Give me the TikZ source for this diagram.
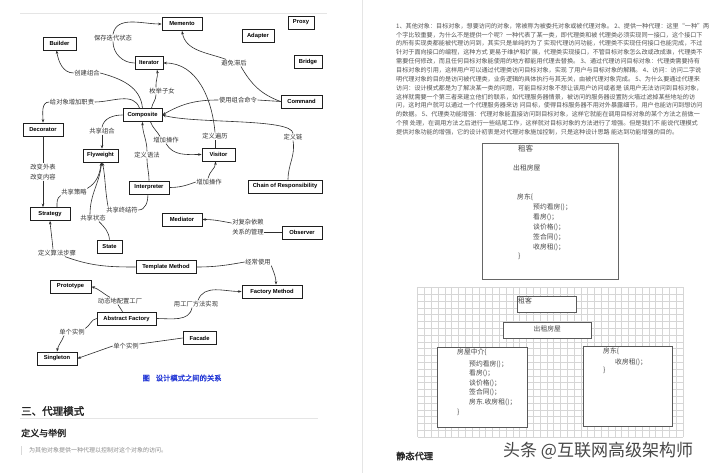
\documentclass[tikz,border=0pt]{standalone}
\usepackage{fontspec}
\setmainfont{Liberation Sans}
\newfontfamily\cjk[AutoFakeBold=2]{Noto Sans CJK SC}
\usetikzlibrary{arrows.meta}
\definecolor{boxline}{gray}{0.12}
\definecolor{edgecol}{gray}{0.18}
\definecolor{lblcol}{gray}{0.2}
\definecolor{paracol}{gray}{0.33}
\definecolor{gridcol}{gray}{0.84}
\definecolor{capblue}{RGB}{40,60,215}
\definecolor{faint}{gray}{0.9}
\tikzset{
  box/.style={draw=boxline, line width=0.7pt, fill=white, font=\bfseries\fontsize{5.8}{7}\selectfont, minimum height=13, inner sep=1pt},
  lbl/.style={font=\cjk\fontsize{6.3}{7.5}\selectfont, text=lblcol, inner sep=0.5pt},
  lbltwo/.style={font=\cjk\fontsize{6.3}{10}\selectfont, text=lblcol, inner sep=0.5pt, align=center},
  edge/.style={draw=edgecol, line width=0.6pt},
  arr/.style={edge, -{Stealth[length=3.6pt,width=2.6pt]}},
  para/.style={font=\cjk\fontsize{6.1}{7}\selectfont, text=paracol, inner sep=0pt, anchor=west},
  gbox/.style={draw=black!65, line width=0.6pt, fill=white, inner sep=0pt, anchor=north west},
  gtxt/.style={font=\cjk\fontsize{6.8}{8}\selectfont, text=black!72, inner sep=0pt, anchor=west},
}
\newcommand\myparline[2]{\node[para] (p#1) at (396,{26+8.85*(#1-1)}) {#2};}
\begin{document}
\begin{tikzpicture}[x=1pt,y=-1pt]
\useasboundingbox (0,0) rectangle (720,473);
\fill[white] (0,0) rectangle (720,473);

% ---------- left page ----------
\draw[faint, line width=0.6pt] (20,13) -- (327,13);

\node[box,minimum width=40] (memento) at (182,24) {Memento};
\node[box,minimum width=26] (proxy) at (301,22.5) {Proxy};
\node[box,minimum width=32] (adapter) at (258,36) {Adapter};
\node[box,minimum width=28] (bridge) at (308,62) {Bridge};
\node[box,minimum width=33] (builder) at (59.5,43.5) {Builder};
\node[box,minimum width=28] (iterator) at (149,63) {Iterator};
\node[box,minimum width=41] (command) at (301.5,101.5) {Command};
\node[box,minimum width=39] (composite) at (142.5,115) {Composite};
\node[box,minimum width=40] (decorator) at (43,129.5) {Decorator};
\node[box,minimum width=35] (flyweight) at (100.5,155.5) {Flyweight};
\node[box,minimum width=33] (visitor) at (218.5,154.5) {Visitor};
\node[box,minimum width=40] (interpreter) at (149,187.5) {Interpreter};
\node[box,minimum width=74] (chain) at (285,186.5) {Chain of Responsibility};
\node[box,minimum width=40] (strategy) at (50,214) {Strategy};
\node[box,minimum width=40] (mediator) at (182,219.5) {Mediator};
\node[box,minimum width=40] (observer) at (302,232.5) {Observer};
\node[box,minimum width=25] (state) at (109.5,246.5) {State};
\node[box,minimum width=60] (template) at (166,267) {Template Method};
\node[box,minimum width=60] (factorym) at (272,291.5) {Factory Method};
\node[box,minimum width=41] (prototype) at (70.5,286.5) {Prototype};
\node[box,minimum width=59] (absfactory) at (126.5,318.5) {Abstract Factory};
\node[box,minimum width=33] (facade) at (199.5,338) {Facade};
\node[box,minimum width=40] (singleton) at (57,358.5) {Singleton};

\node[lbl] (l1) at (113,38) {保存迭代状态};
\node[lbl] (l2) at (87,73) {创建组合};
\node[lbl] (l3) at (162,91) {枚举子女};
\node[lbl] (l4) at (72,102) {给对象增加职责};
\node[lbl] (l5) at (102,131) {共享组合};
\node[lbl] (l6) at (147,155) {定义语法};
\node[lbl] (l7) at (166,140) {增加操作};
\node[lbl] (l8) at (215,136) {定义遍历};
\node[lbl] (l9) at (238,100) {使用组合命令};
\node[lbl] (l10) at (293,137) {定义链};
\node[lbl] (l11) at (234,63) {避免滞后};
\node[lbltwo] (l12) at (43,172) {改变外表\\改变内容};
\node[lbl] (l13) at (74,192) {共享策略};
\node[lbl] (l14) at (122,210) {共享终结符};
\node[lbl] (l15) at (93,218) {共享状态};
\node[lbl] (l16) at (57,253) {定义算法步骤};
\node[lbl] (l17) at (209,182) {增加操作};
\node[lbltwo] (l18) at (248,227) {对复杂依赖\\关系的管理};
\node[lbl] (l19) at (258,262) {经常使用};
\node[lbl] (l20) at (120,301) {动态地配置工厂};
\node[lbl] (l21) at (196,304) {用工厂方法实现};
\node[lbl] (l22) at (72,332) {单个实例};
\node[lbl] (l23) at (126,346) {单个实例};

% connectors
\draw[edge] (iterator.west) to[out=180,in=-90] (l1.south);
\draw[arr] (l1.north) to[out=80,in=180] (memento.west);
\draw[edge] (composite.north) to[out=95,in=-15] (l2.east);
\draw[arr] (l2.west) to[out=180,in=-80] ([xshift=-3pt]builder.south);
\draw[edge] ([xshift=9pt]composite.north) to[out=80,in=-90] ([xshift=-6pt]l3.south);
\draw[arr] ([xshift=-6pt]l3.north) to[out=95,in=-80] ([xshift=8pt]iterator.south);
\draw[edge] ([xshift=-3pt]composite.north) to[out=110,in=0] (l4.east);
\draw[arr] (l4.west) to[out=180,in=90] (decorator.north);
\draw[edge] (composite.west) to[out=180,in=80] (l5.north);
\draw[arr] (l5.south) -- (l5.south |- flyweight.north);
\draw[edge] (interpreter.north) to[out=90,in=-90] (l6.south);
\draw[arr] (l6.north) to[out=90,in=-90] (composite.south);
\draw[edge] ([xshift=8pt]composite.south) to[out=-70,in=120] ([xshift=-6pt]l7.north);
\draw[arr] (l7.south) to[out=-60,in=180] (visitor.west);
\draw[edge] (l8.south |- visitor.north) -- (l8.south);
\draw[arr] (l8.north) to[out=95,in=0] (iterator.east);
\draw[edge] (command.west) -- (l9.east);
\draw[arr] (l9.west) to[out=180,in=30] (composite.east);
\draw[edge] ([xshift=3pt]chain.north) to[out=90,in=-80] (l10.south);
\draw[arr] (l10.north) .. controls (292,118) and (195,124) .. (composite.east);
\draw[edge] (command.west) to[out=160,in=-60] ([xshift=7pt]l11.south);
\draw[arr] ([xshift=-8pt]l11.north) to[out=160,in=-80] (memento.south);
\draw[edge] (decorator.south) -- (l12.north);
\draw[arr] (l12.south) -- (l12.south |- strategy.north);
\draw[edge] ([xshift=7pt]strategy.north) to[out=90,in=-150] (l13.south west);
\draw[arr] (l13.north east) to[out=30,in=-100] ([xshift=1pt]flyweight.south);
\draw[edge] ([xshift=-1pt]interpreter.south) to[out=-90,in=0] (l14.east);
\draw[arr] ([xshift=-14pt]l14.north) to[out=100,in=-80] ([xshift=2pt]flyweight.south);
\draw[edge] (state.north) to[out=95,in=-45] ([xshift=6pt]l15.south);
\draw[arr] ([xshift=-3pt]l15.north) to[out=90,in=-95] ([xshift=1pt]flyweight.south);
\draw[edge] (template.west) to[out=180,in=-20] ([xshift=8pt]l16.south);
\draw[arr] ([xshift=-4pt]l16.north) to[out=95,in=-85] (strategy.south);
\draw[edge] (interpreter.east) to[out=0,in=200] (l17.west);
\draw[arr] ([xshift=-1pt]l17.north) to[out=80,in=-90] ([xshift=-3pt]visitor.south);
\draw[edge] (observer.west) -- (l18.east |- observer.west);
\draw[arr] ([yshift=4pt]l18.west) to[out=170,in=0] (mediator.east);
\draw[edge] (template.east) to[out=0,in=190] (l19.west);
\draw[arr] (l19.south east) to[out=-70,in=90] ([xshift=4pt]factorym.north);
\draw[edge] ([xshift=-4pt]absfactory.north) to[out=100,in=-80] ([xshift=-2pt]l20.south);
\draw[arr] ([xshift=-10pt]l20.north) to[out=150,in=-20] (prototype.east);
\draw[edge] (absfactory.east) to[out=0,in=-100] ([xshift=-4pt]l21.south);
\draw[arr] ([xshift=2pt]l21.north) to[out=70,in=180] (factorym.west);
\draw[edge] (absfactory.west) to[out=190,in=30] (l22.north east);
\draw[arr] ([xshift=-8pt]l22.south) to[out=-110,in=80] (singleton.north);
\draw[edge] (facade.west) -- ([yshift=2pt]l23.east);
\draw[arr] (l23.west) -- (singleton.east);

\node[font=\cjk\fontsize{7.3}{9}\selectfont\bfseries, text=capblue, inner sep=0pt] (caption) at (182,378) {图\hspace{6pt}设计模式之间的关系};

\node[font=\cjk\fontsize{10.5}{12}\selectfont\bfseries, text=black!85, anchor=west, inner sep=0pt] (h1) at (21,411) {三、代理模式};
\draw[faint, line width=0.6pt] (20,418) -- (318,418);
\node[font=\cjk\fontsize{9}{11}\selectfont\bfseries, text=black!85, anchor=west, inner sep=0pt] (h2) at (21,433) {定义与举例};
\fill[black!15] (20.5,446) rectangle (22,455);
\node[font=\cjk\fontsize{6}{7}\selectfont, text=black!45, anchor=west, inner sep=0pt] (quote) at (29,450.5) {为其他对象提供一种代理以控制对这个对象的访问。};

% ---------- right page ----------
\draw[faint, line width=0.8pt] (362,0) -- (362,473);

\myparline{1}{1、其他对象：目标对象，想要访问的对象，常被称为被委托对象或被代理对象。 2、提供一种代理：这里“一种”两}
\myparline{2}{个字比较重要，为什么不是提供一个呢？一种代表了某一类，即代理类和被 代理类必须实现同一接口，这个接口下}
\myparline{3}{的所有实现类都能被代理访问到，其实只是单纯的为了 实现代理访问功能，代理类不实现任何接口也能完成，不过}
\myparline{4}{针对于面向接口的编程，这种方式 更易于维护和扩展，代理类实现接口，不管目标对象怎么改或改成谁，代理类不}
\myparline{5}{需要任何修改，而且任何目标对象能使用的地方都能用代理去替换。 3、通过代理访问目标对象：代理类需要持有}
\myparline{6}{目标对象的引用，这样用户可以通过代理类访问目标对象，实现 了用户与目标对象的解耦。 4、访问：访问二字说}
\myparline{7}{明代理对象的目的是访问被代理类，业务逻辑的具体执行与其无关，由被代理对象完成。 5、为什么要通过代理来}
\myparline{8}{访问：设计模式都是为了解决某一类的问题，可能目标对象不想让该用户访问或者是 该用户无法访问到目标对象，}
\myparline{9}{这样就需要一个第三者来建立他们的联系，如代理服务器情景，被访问的服务器设置防火墙过滤掉某些地址的访}
\myparline{10}{问，这时用户就可以通过一个代理服务器来访 问目标，使得目标服务器不用对外暴露细节，用户也能访问到想访问}
\myparline{11}{的数据。 5、代理类功能增强：代理对象能直接访问到目标对象，这样它就能在调用目标对象的某个方法之前做一}
\myparline{12}{个预 处理，在调用方法之后进行一些结尾工作，这样就对目标对象的方法进行了增强。但是我们不 能说代理模式}
\myparline{13}{提供对象功能的增强，它的设计初衷是对代理对象施加控制，只是这种设计思路 能达到功能增强的目的。}

% first figure box
\node[gbox, draw=black!60, minimum width=136, minimum height=136] (rentbox) at (482,143) {};
\node[gtxt, font=\cjk\fontsize{7.5}{9}\selectfont] (t1) at (518,148.5) {租客};
\node[gtxt] (t2) at (513,168) {出租房屋};
\node[gtxt] (t3) at (517,197) {房东\{};
\node[gtxt] (t4) at (533,207) {预约看房()；};
\node[gtxt] (t5) at (533,217) {看房()；};
\node[gtxt] (t6) at (533,227) {谈价格()；};
\node[gtxt] (t7) at (533,237) {签合同()；};
\node[gtxt] (t8) at (533,247) {收房租()；};
\node[gtxt] (t9) at (518,256) {\}};

% grid figure
\foreach \i in {0,...,39} \draw[gridcol, line width=0.4pt] ({417.5+\i*6.8},287.3) -- ({417.5+\i*6.8},436.9);
\foreach \j in {0,...,22} \draw[gridcol, line width=0.4pt] (417.5,{287.3+\j*6.8}) -- (682.7,{287.3+\j*6.8});

\node[gbox, minimum width=59, minimum height=16] (tenant) at (517,296) {};
\node[gtxt, anchor=north west] (tenanttxt) at ([xshift=1pt,yshift=-1.5pt]tenant.north west) {租客};
\node[gbox, minimum width=88, minimum height=16] (rent) at (503,322) {};
\node[gtxt, anchor=center] (renttxt) at ([yshift=1.5pt]rent.center) {出租房屋};
\node[gbox, minimum width=90, minimum height=80] (agent) at (437,347) {};
\node[gtxt] (a1) at (457,352) {房屋中介\{};
\node[gtxt] (a2) at (469,364) {预约看房()；};
\node[gtxt] (a3) at (469,373) {看房()；};
\node[gtxt] (a4) at (469,383) {谈价格()；};
\node[gtxt] (a5) at (469,392) {签合同()；};
\node[gtxt] (a6) at (469,402) {房东.收房租()；};
\node[gtxt] (a7) at (457,412) {\}};
\node[gbox, minimum width=89, minimum height=80] (landlord) at (583,346) {};
\node[gtxt] (b1) at (603,351) {房东\{};
\node[gtxt] (b2) at (615,362) {收房租()；};
\node[gtxt] (b3) at (603,370) {\}};

\node[font=\cjk\fontsize{9.2}{11}\selectfont\bfseries, text=black!85, anchor=west, inner sep=0pt] (h3) at (396,456) {静态代理};
\node[font=\cjk\fontsize{17}{19}\selectfont, text=black!72, anchor=west, inner sep=0pt] (wm) at (503,451) {头条 @互联网高级架构师};
\end{tikzpicture}
\end{document}
